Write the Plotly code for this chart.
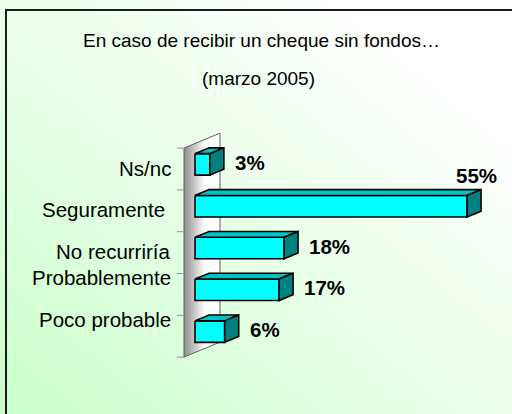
import plotly.graph_objects as go

# ---------------- data ----------------
categories = ["Ns/nc", "Seguramente\u00a0", "No recurriría", "Probablemente", "Poco probable"]
values = [3, 55, 18, 17, 6]
value_labels = ["3%", "55%", "18%", "17%", "6%"]
title_line1 = "En caso de recibir un cheque sin fondos…"
title_line2 = "(marzo 2005)"

# ---------------- layout geometry ----------------
W, H = 512, 414
ML, MR, MT, MB = 170, 12, 100, 24
PW, PH = W - ML - MR, H - MT - MB
KX = 4.9455            # px per % unit
KY = 41.8              # px per category
X0PX, Y0PX = 184, 169  # pixel of x=0 / category 0 on the front plane
xr = [(ML - X0PX) / KX, (ML + PW - X0PX) / KX]
yr = [(MT + PH - Y0PX) / KY, (MT - Y0PX) / KY]   # reversed

DX = 36 / KX      # depth offset in data units
DY = -15 / KY
Z0, Z1 = 0.306, 0.695
HB = 0.257        # half bar height (category units)
label_pos = [-0.02, 0.98, 1.98, 2.60, 3.59]

FONT = "Liberation Sans, Arial, sans-serif"
idx = list(range(len(categories)))


def paper(px, py):
    return (px - ML) / PW, (MT + PH - py) / PH


fig = go.Figure()

# ---- wall ----
wx = [0, DX, DX, 0, 0]
wy = [-0.5, -0.5 + DY, len(categories) - 0.5 + DY, len(categories) - 0.5, -0.5]
fig.add_trace(go.Scatter(
    x=wx, y=wy, mode="lines", fill="toself",
    line=dict(color="#606060", width=1),
    fillgradient=dict(type="horizontal",
                      colorscale=[[0, "#8c8c8c"], [0.3, "#c8c8c8"], [0.58, "#ffffff"], [1, "#ffffff"]]),
    hoverinfo="skip", showlegend=False))

# ---- 3D bars: front, top, side faces ----
for c, v in zip(idx, values):
    x0, x1 = Z0 * DX, Z1 * DX
    yt = c + Z0 * DY - HB
    yb = c + Z0 * DY + HB
    d = (Z1 - Z0) * DY
    faces = [
        ([x0, x0 + v, x0 + v, x0, x0], [yt, yt, yb, yb, yt], "#00ffff"),
        ([x0, x0 + v, x1 + v, x1, x0], [yt, yt, yt + d, yt + d, yt], "#00c4c4"),
        ([x0 + v, x1 + v, x1 + v, x0 + v, x0 + v], [yt, yt + d, yb + d, yb, yt], "#008080"),
    ]
    for fx, fy, col in faces:
        fig.add_trace(go.Scatter(
            x=fx, y=fy, mode="lines", fill="toself", fillcolor=col,
            line=dict(color="black", width=1.6), hoverinfo="skip", showlegend=False))

annotations = []
# value labels
vmax = max(values)
for c, v, t in zip(idx, values, value_labels):
    if v == vmax:
        annotations.append(dict(
            x=Z1 * DX + v, y=c + Z1 * DY - HB, xref="x", yref="y", text=t,
            xanchor="right", yanchor="middle", xshift=18, yshift=14, showarrow=False,
            font=dict(family=FONT, size=20.5, color="black", weight="bold")))
    else:
        annotations.append(dict(
            x=Z1 * DX + v, y=c + 0.5 * DY, xref="x", yref="y", text=t,
            xanchor="left", yanchor="middle", xshift=9, yshift=-1, showarrow=False,
            font=dict(family=FONT, size=20.5, color="black", weight="bold")))

# category labels
for cat, p in zip(categories, label_pos):
    annotations.append(dict(
        x=(173 - X0PX) / KX, y=p, xref="x", yref="y", text=cat,
        xanchor="right", yanchor="middle", showarrow=False,
        font=dict(family=FONT, size=20.5, color="black")))

# titles
tx, ty1 = paper(261, 41)
_, ty2 = paper(258, 78)
annotations.append(dict(x=tx, y=ty1, xref="paper", yref="paper", text=title_line1,
                        xanchor="center", yanchor="middle", showarrow=False,
                        font=dict(family=FONT, size=19, color="black")))
annotations.append(dict(x=paper(258, 0)[0], y=ty2, xref="paper", yref="paper", text=title_line2,
                        xanchor="center", yanchor="middle", showarrow=False,
                        font=dict(family=FONT, size=19, color="black")))

# ---------------- shapes ----------------
shapes = []


def lerp_col(t):
    t = max(0.0, min(1.0, t))
    r = int(round(204 + (255 - 204) * t))
    return f"rgb({r},255,{r})"


N = 36
for k in range(1, N + 1):
    s = 2.0 * k / N * 0.95
    pts = [(s - 5, 5), (s + 5, -5), (10, -5), (10, 5)]
    path = ""
    for i, (u, v) in enumerate(pts):
        px, py = u * W, (1 - v) * H
        X, Y = paper(px, py)
        path += ("M" if i == 0 else "L") + f"{X:.4f},{Y:.4f}"
    path += "Z"
    t = (k / N) * 1.15
    shapes.append(dict(type="path", xref="paper", yref="paper", path=path,
                       fillcolor=lerp_col(t), line=dict(width=0), layer="below"))

# frame
fx0, fy0 = paper(6, 10)
fx1, fy1 = paper(700, 600)
shapes.append(dict(type="rect", xref="paper", yref="paper", x0=fx0, y0=fy0, x1=fx1, y1=fy1,
                   line=dict(color="#1a1a1a", width=2), fillcolor="rgba(0,0,0,0)", layer="above"))

# axis ticks on the wall front
for c in range(len(categories) + 1):
    shapes.append(dict(type="line", xref="x", yref="y", x0=-7 / KX, x1=0,
                       y0=c - 0.5, y1=c - 0.5, line=dict(color="#909090", width=1)))

fig.update_layout(
    width=W, height=H,
    margin=dict(l=ML, r=MR, t=MT, b=MB),
    paper_bgcolor="#ccffcc", plot_bgcolor="rgba(0,0,0,0)",
    xaxis=dict(range=xr, visible=False, fixedrange=True),
    yaxis=dict(range=yr, visible=False, fixedrange=True),
    annotations=annotations, shapes=shapes, showlegend=False,
)

fig.write_html("out.html", config={"displayModeBar": False},
               post_script="document.body.style.margin='0';document.body.style.overflow='hidden';")
